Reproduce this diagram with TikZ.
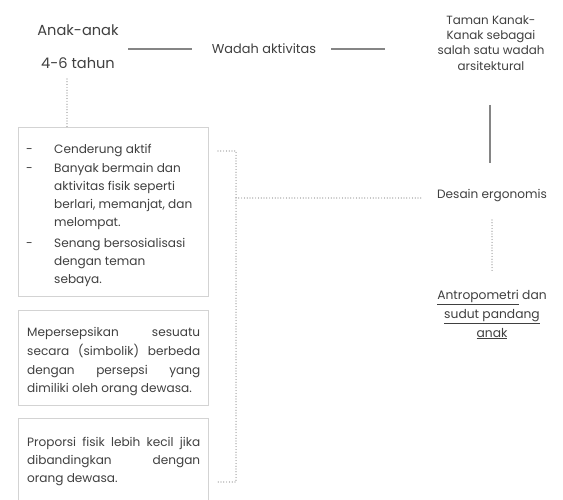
\documentclass[tikz,border=0pt]{standalone}
\usepackage{fontspec}
\setmainfont{Poppins}
\definecolor{tc}{HTML}{404040}
\definecolor{lc}{HTML}{858585}
\definecolor{dc}{HTML}{8A8A8A}
\definecolor{bc}{HTML}{D3D3D3}
\begin{document}
\begin{tikzpicture}[x=1pt,y=-1pt,
  txt/.style={text=tc, inner sep=0pt},
  solidline/.style={draw=lc, line width=1.9pt},
  dotline/.style={draw=dc, line width=1.2pt, line cap=round, dash pattern=on 0pt off 2.8pt},
  boxnode/.style={draw=bc, line width=0.9pt, fill=white, minimum width=190pt, anchor=north west, inner sep=0pt},
  boxtext/.style={txt, anchor=base west, font=\fontsize{12.1}{18.2}\selectfont, text width=173pt, align=justify}]
\clip (0,0) rectangle (563,500);
\fill[white] (0,0) rectangle (563,500);
% top row
\node[txt, font=\fontsize{14.6}{33}\selectfont, align=center] (anak) at (78,46.5) {Anak-anak\\4-6 tahun};
\node[txt, font=\fontsize{12.9}{15}\selectfont] (wadah) at (264,49) {Wadah aktivitas};
\node[txt, font=\fontsize{11.9}{15.3}\selectfont, align=center] (taman) at (491,43) {Taman Kanak-\\Kanak sebagai\\salah satu wadah\\arsitektural};
\node[txt, font=\fontsize{12.1}{15}\selectfont] (ergo) at (492,196) {Desain ergonomis};
\node[txt, font=\fontsize{12.3}{19}\selectfont, align=center] (antro) at (492,314.5) {\underline{Antropometri} dan\\\underline{sudut pandang}\\\underline{anak}};
% boxes
\node[boxnode, minimum height=169pt] (box1) at (18,127) {};
\node[boxnode, minimum height=95pt] (box2) at (18,310) {};
\node[boxnode, minimum height=100pt] (box3) at (18,418) {};
\node[txt, anchor=base west, font=\fontsize{12.1}{18}\selectfont] (list) at (26,154)
 {\renewcommand\arraystretch{1}\begin{tabular}[t]{@{}p{28pt}@{}l@{}}
 - & Cenderung aktif\\[1pt]
 - & Banyak bermain dan\\
   & aktivitas fisik seperti\\
   & berlari, memanjat, dan\\
   & melompat.\\[2.5pt]
 - & Senang bersosialisasi\\
   & dengan teman\\
   & sebaya.
 \end{tabular}};
\node[boxtext, font=\fontsize{12.1}{18.8}\selectfont] (t2) at (27,336.5) {Mepersepsikan sesuatu\linebreak secara (simbolik) berbeda\linebreak dengan persepsi yang\linebreak dimiliki oleh orang dewasa.};
\node[boxtext] (t3) at (27,446) {Proporsi fisik lebih kecil jika\linebreak dibandingkan dengan\linebreak orang dewasa.};
% connector end points
\coordinate (a1) at (128,49); \coordinate (a2) at (192,49);
\coordinate (b1) at (331,49); \coordinate (b2) at (385,49);
\coordinate (c1) at (490,105); \coordinate (c2) at (490,163);
\coordinate (d1) at (492,220); \coordinate (d2) at (492,272);
\coordinate (e1) at (67,79);
\coordinate (f1) at (218,151); \coordinate (f2) at (236,151);
\coordinate (f3) at (236,482); \coordinate (f4) at (218,482);
\coordinate (g1) at (236,198); \coordinate (g2) at (422,198);
% connectors
\draw[solidline] (a1) -- (a2);
\draw[solidline] (b1) -- (b2);
\draw[solidline] (c1) -- (c2);
\draw[dotline] (d1) -- (d2);
\draw[dotline] (e1) -- (e1 |- box1.north);
\draw[dotline] (f1) -- (f2) -- (f3) -- (f4);
\draw[dotline] (g1) -- (g2);
\end{tikzpicture}
\end{document}
